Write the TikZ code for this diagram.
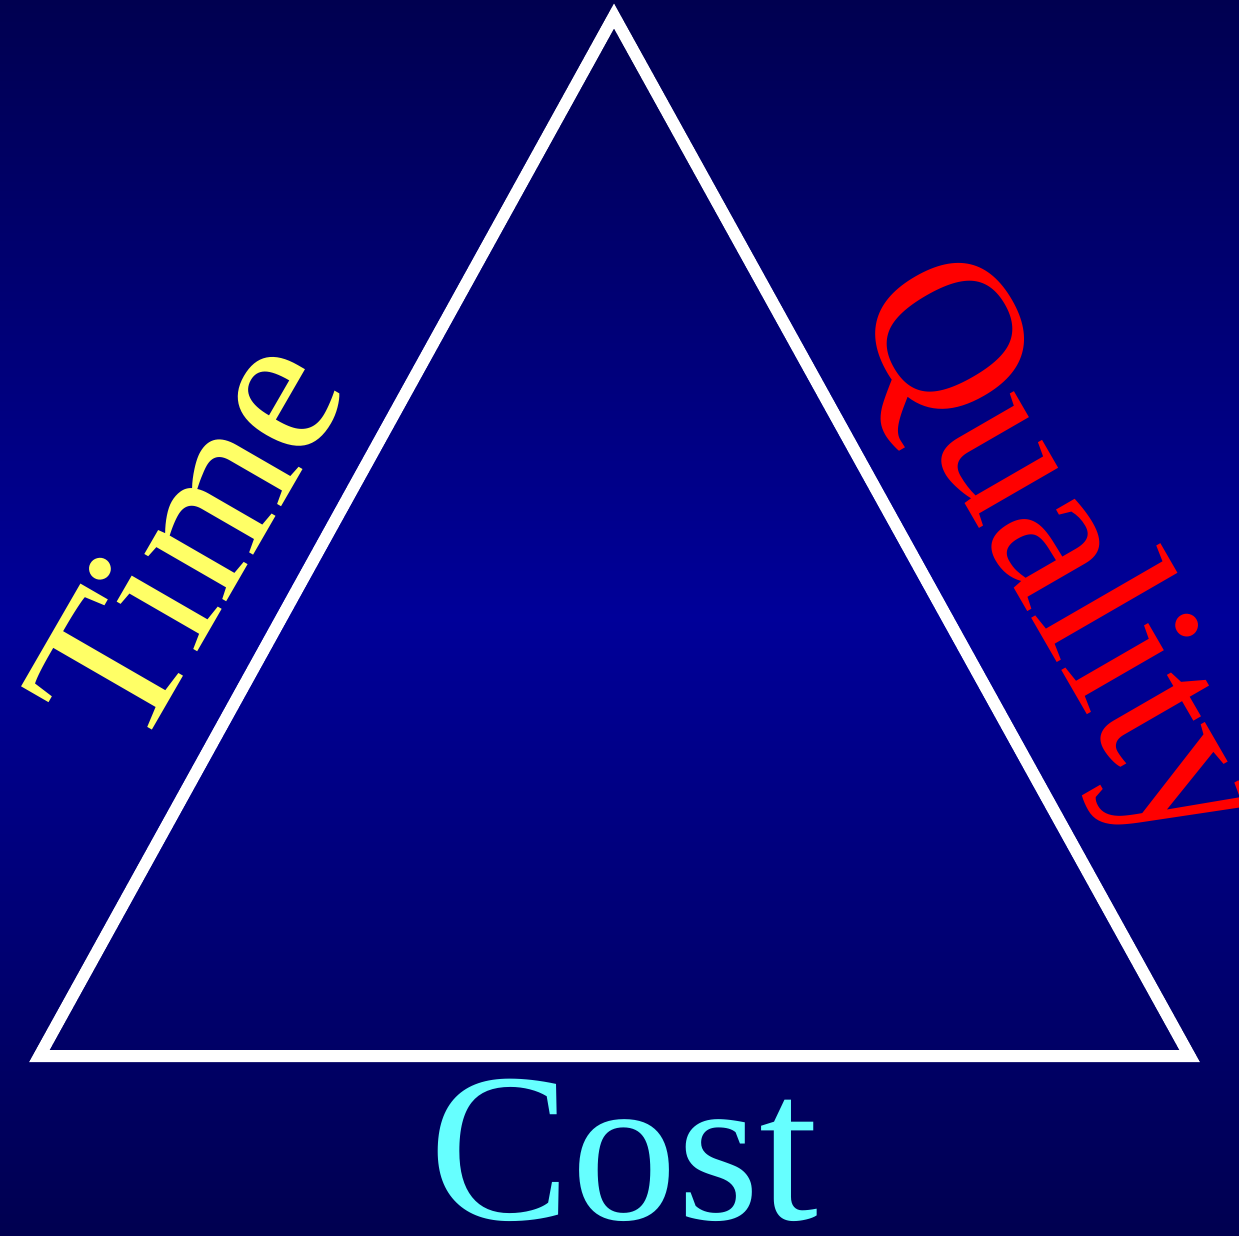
\documentclass[tikz,border=0pt]{standalone}
\usepackage{fontspec}
\setmainfont{Liberation Serif}
\usetikzlibrary{positioning, calc}
\definecolor{navydark}{HTML}{000050}
\definecolor{navymid}{HTML}{000099}
\definecolor{timeyellow}{HTML}{FFFF66}
\definecolor{costcyan}{HTML}{66FFFF}
\definecolor{qualred}{HTML}{FF0000}
\tikzset{
  edge/.style  = {draw=white, line width=12pt, line join=miter},
  corner/.style = {anchor=base, inner sep=0pt},
}

\begin{document}
\begin{tikzpicture}[x=1pt, y=1pt]

  % backdrop, dark at the edges and brighter in the middle
  \fill[top color=navydark, bottom color=navydark, middle color=navymid]
    (0,0) rectangle (1239,1235);
  \useasboundingbox (0,0) rectangle (1239,1235);

  % the three corners
  \coordinate (apex)  at (614,1219);
  \coordinate (left)  at (39.4,179);
  \coordinate (right) at (1189.6,179);

  \draw[edge] (apex) -- (right) -- (left) -- cycle;

  % one label per side
  \node[corner, rotate=60, text=timeyellow,
        font=\fontsize{206}{206}\selectfont] (time) at (243.2,662.3) {Time};
  \node[corner, rotate=-60, text=qualred,
        font=\fontsize{215}{215}\selectfont] (quality) at (1011.3,651.4) {Quality};
  \node[corner, text=costcyan,
        font=\fontsize{212}{212}\selectfont] (cost) at (624,16) {Cost};

\end{tikzpicture}
\end{document}
